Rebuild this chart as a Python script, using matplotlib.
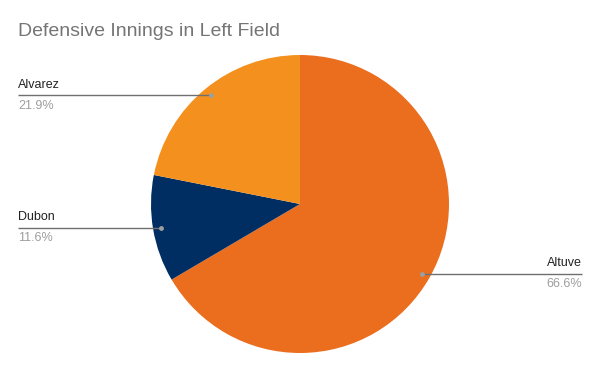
import matplotlib
matplotlib.use("Agg")
import matplotlib.pyplot as plt
import numpy as np

plt.rcParams['font.family'] = ['Liberation Sans', 'DejaVu Sans']

title = "Defensive Innings in Left Field"
names = ["Altuve", "Dubon", "Alvarez"]
values = [66.6, 11.6, 21.9]
pct_labels = ["66.6%", "11.6%", "21.9%"]
colors = ["#EB6E1F", "#002D62", "#F4911E"]

W, H = 600, 371
fig = plt.figure(figsize=(W / 100, H / 100), dpi=100)
cx, cy, r = 300, 204, 149
ax = fig.add_axes([(cx - r) / W, (H - cy - r) / H, 2 * r / W, 2 * r / H])
wedges, _ = ax.pie(values, colors=colors, startangle=90, counterclock=False,
                   radius=1, wedgeprops=dict(linewidth=0))
ax.set_xlim(-1, 1)
ax.set_ylim(-1, 1)
ax.set_aspect('equal')
ax.axis('off')

xl = (18 - cx) / r
xr = (582 - cx) / r
for w, name, pct in zip(wedges, names, pct_labels):
    mid = np.deg2rad((w.theta1 + w.theta2) / 2)
    px, py = 0.945 * np.cos(mid), 0.945 * np.sin(mid)
    if px >= 0:
        ex, ha = xr, 'right'
    else:
        ex, ha = xl, 'left'
    ax.plot([px, ex], [py, py], color="#6f6f6f", lw=1, clip_on=False, solid_capstyle='butt')
    ax.plot([px], [py], marker='o', ms=3.5, color="#9e9e9e", mec='none', clip_on=False)
    ax.text(ex, py + 0.03, name, ha=ha, va='bottom', fontsize=9, color="#222222", clip_on=False)
    ax.text(ex, py - 0.03, pct, ha=ha, va='top', fontsize=9, color="#9e9e9e", clip_on=False)

fig.text(18 / W, 1 - 31 / H, title, ha='left', va='center', fontsize=14, color="#757575")
fig.savefig("out.png", dpi=100, facecolor='white')
